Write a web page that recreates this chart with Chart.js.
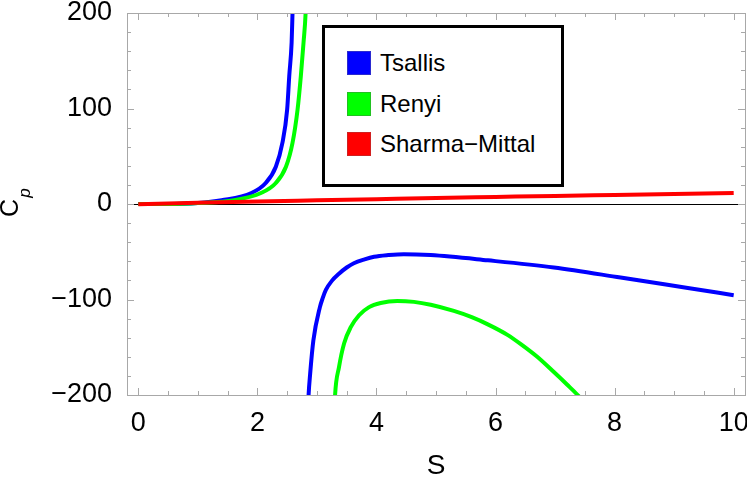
<!DOCTYPE html>
<html>
<head>
<meta charset="utf-8">
<script src="https://cdn.jsdelivr.net/npm/chart.js@4/dist/chart.umd.min.js"></script>
<style>
  html, body { margin: 0; padding: 0; background: #fff; }
  #wrap { position: relative; width: 747px; height: 478px; }
  #legend {
    position: absolute; left: 322px; top: 25px; width: 242px; height: 162px;
    box-sizing: border-box; border: 3px solid #000; background: #fff;
    font-family: "Liberation Sans", Arial, sans-serif; font-size: 24px; color: #000;
  }
  .row { position: absolute; left: 22px; height: 24px; display: flex; align-items: center; }
  .sw { width: 22px; height: 22px; border: 1px solid; margin-right: 9px; }
</style>
</head>
<body>
<div id="wrap">
  <canvas id="chart" width="747" height="478"></canvas>
  <div id="legend"></div>
</div>
<script>
// values
const xTicks = [0, 2, 4, 6, 8, 10];
const yTicks = [-200, -100, 0, 100, 200];

// Tsallis: two branches split by a pole near S = 2.7
const tsallisS  = [0, 0.5, 1.0, 1.4, 1.9, 2.14, 2.31, 2.42, 2.5, 2.535, 2.575, 2.59, 2.62,
                   2.7,
                   2.84, 2.86, 2.886, 2.94, 3.05, 3.1, 3.15, 3.25, 3.37, 3.5, 3.62, 3.8, 3.96, 4.2, 4.46, 4.91,
                   5.87, 6.98, 8.1, 9.23, 10.0];
const tsallisCp = [0, 0, 1, 4, 11.5, 22, 39, 64, 99, 134, 169, 200, 260,
                   null,
                   -230, -200, -178, -143, -108, -98, -90, -80.5, -73, -66.5, -62, -58, -55.3, -53.5, -52.5, -53.5,
                   -59, -66.5, -77, -88, -95.5];

// Renyi: pole near S = 3.0
const renyiS  = [0, 0.5, 1.0, 1.61, 2.06, 2.31, 2.48, 2.59, 2.675, 2.73, 2.775, 2.81, 2.84,
                 3.0,
                 3.28, 3.305, 3.37, 3.456, 3.568, 3.708, 3.876, 4.07, 4.35, 4.63, 4.91, 5.3, 5.6, 5.87,
                 6.2, 6.43, 6.7, 6.98, 7.2, 7.38, 7.45];
const renyiCp = [0, 0, 1, 4, 11.5, 22, 39, 64, 99, 134, 169, 200, 260,
                 null,
                 -240, -200, -171, -146, -129, -116.5, -108, -103.6, -101.5, -102.5, -105.5, -112, -118.5, -126,
                 -137, -147, -160, -176, -189, -200, -205];

// Sharma-Mittal
const smS  = [0, 1, 2, 3, 4, 5, 6, 7, 8, 9, 10];
const smCp = [-0.3, 1.4, 2.7, 3.9, 5.1, 6.3, 7.4, 8.5, 9.5, 10.5, 11.5];

const series = [
  { label: 'Tsallis', s: tsallisS, cp: tsallisCp, color: '#0000ff', edge: '#2a2ad0', order: 3 },
  { label: 'Renyi', s: renyiS, cp: renyiCp, color: '#00ff00', edge: '#22c022', order: 2 },
  { label: 'Sharma\u2212Mittal', s: smS, cp: smCp, color: '#ff0000', edge: '#d02020', order: 1 }
];

const FONT = '"Liberation Sans", Arial, sans-serif';

// frame, inward ticks and the zero line, Mathematica style
const framePlugin = {
  id: 'frame',
  beforeDatasetsDraw(chart) {
    const { ctx, chartArea: a, scales: { y } } = chart;
    const y0 = Math.round(y.getPixelForValue(0)) + 0.5;
    ctx.save();
    ctx.strokeStyle = '#000';
    ctx.lineWidth = 1;
    ctx.beginPath();
    ctx.moveTo(a.left, y0);
    ctx.lineTo(a.right, y0);
    ctx.stroke();
    ctx.restore();
  },
  afterDatasetsDraw(chart) {
    const { ctx, chartArea: a, scales: { x, y } } = chart;
    ctx.save();
    ctx.strokeStyle = '#a8a8a8';
    ctx.lineWidth = 1;
    ctx.strokeRect(Math.round(a.left) + 0.5, Math.round(a.top) + 0.5,
      Math.round(a.right - a.left), Math.round(a.bottom - a.top));
    const tick = (x1, y1, x2, y2) => { ctx.beginPath(); ctx.moveTo(x1, y1); ctx.lineTo(x2, y2); ctx.stroke(); };
    for (let v = 0; v <= 10.001; v += 0.5) {
      const len = xTicks.includes(v) ? 7 : 4;
      const px = Math.round(x.getPixelForValue(v)) + 0.5;
      tick(px, a.bottom, px, a.bottom - len);
      tick(px, a.top, px, a.top + len);
    }
    for (let v = -200; v <= 200; v += 20) {
      const len = yTicks.includes(v) ? 7 : 4;
      const py = Math.round(y.getPixelForValue(v)) + 0.5;
      tick(a.left, py, a.left + len, py);
      tick(a.right, py, a.right - len, py);
    }
    ctx.restore();
  },
  afterDraw(chart) {
    const { ctx, chartArea: a } = chart;
    ctx.save();
    ctx.fillStyle = '#000';
    ctx.textAlign = 'center';
    ctx.textBaseline = 'middle';
    ctx.font = '28px ' + FONT;
    ctx.fillText('S', (a.left + a.right) / 2, 466);
    ctx.translate(11, 208);
    ctx.rotate(-Math.PI / 2);
    ctx.font = '25px ' + FONT;
    ctx.fillText('C', 0, 0);
    ctx.font = 'italic 17px ' + FONT;
    ctx.fillText('p', 15, 14);
    ctx.restore();
  }
};

new Chart(document.getElementById('chart'), {
  type: 'line',
  data: {
    datasets: series.map(d => ({
      label: d.label,
      data: d.s.map((s, i) => ({ x: s, y: d.cp[i] })),
      borderColor: d.color,
      borderWidth: 4,
      pointRadius: 0,
      cubicInterpolationMode: 'monotone',
      spanGaps: false,
      clip: 0,
      order: d.order
    }))
  },
  options: {
    responsive: false,
    animation: false,
    layout: { padding: { top: 13, right: 2, left: 0, bottom: 0 } },
    plugins: { legend: { display: false }, tooltip: { enabled: false } },
    scales: {
      x: {
        type: 'linear',
        min: -0.19,
        max: 10.19,
        grid: { display: false },
        border: { display: false },
        afterBuildTicks: s => { s.ticks = xTicks.map(v => ({ value: v })); },
        afterFit: s => { s.height = 83; s.paddingLeft = 0; s.paddingRight = 0; },
        ticks: { color: '#000', padding: 4, maxRotation: 0, font: { family: FONT, size: 27 } }
      },
      y: {
        min: -200,
        max: 200,
        grid: { display: false },
        border: { display: false },
        afterBuildTicks: s => { s.ticks = yTicks.map(v => ({ value: v })); },
        afterFit: s => { s.width = 127; s.paddingTop = 0; s.paddingBottom = 0; },
        ticks: {
          color: '#000', padding: 7, font: { family: FONT, size: 27 },
          callback: v => (v < 0 ? '\u2212' + Math.abs(v) : String(v))
        }
      }
    }
  },
  plugins: [framePlugin]
});

// legend box
const legend = document.getElementById('legend');
series.forEach((d, i) => {
  const row = document.createElement('div');
  row.className = 'row';
  row.style.top = (23 + i * 40.5) + 'px';
  row.innerHTML = `<span class="sw" style="background:${d.color};border-color:${d.edge}"></span><span>${d.label}</span>`;
  legend.appendChild(row);
});
</script>
</body>
</html>
